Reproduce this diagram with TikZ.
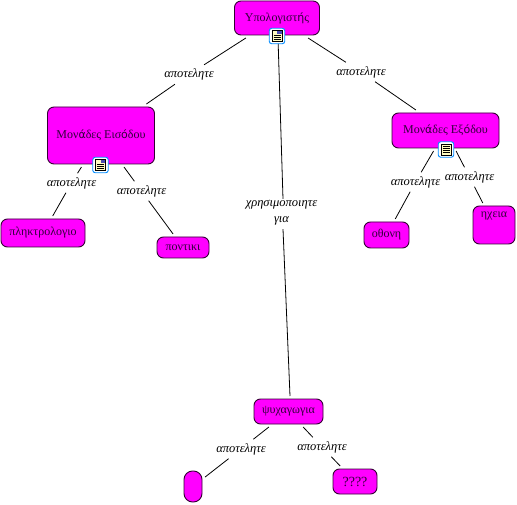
\documentclass[tikz,border=0pt]{standalone}
\usepackage{fontspec}
\setmainfont{Liberation Serif}
\newfontfamily\fbk{DejaVu Sans}
\newcommand{\fb}[1]{{\fbk\fontsize{11}{13}\selectfont #1}}
\definecolor{conceptfill}{RGB}{255,0,255}
\definecolor{conceptink}{RGB}{50,0,60}
\tikzset{
  concept/.style={draw=black!80!conceptfill,line width=0.9pt,fill=conceptfill,rounded corners=6.5pt,
    minimum width=#1,inner sep=0pt,outer sep=3pt,align=center,text=conceptink,font=\fontsize{12}{14}\selectfont},
  link/.style={inner sep=1pt,outer sep=3pt,align=center,font=\itshape\fontsize{12.5}{16}\selectfont,text=black},
  conn/.style={draw=black,line width=0.8pt},
}
\newcommand{\docicon}[2]{%
  \node[draw=blue!45!cyan,line width=0.9pt,fill=white,rounded corners=2.5pt,minimum size=15.5pt,inner sep=0pt] (#1) at #2 {};
  \fill[yellow!25,draw=black,line width=0.6pt] ([shift={(-5pt,5.5pt)}]#1.center) rectangle ([shift={(5pt,-5.5pt)}]#1.center);
}
\begin{document}
\begin{tikzpicture}[x=1pt,y=-1pt]
\useasboundingbox (0,0) rectangle (517,505);
% concepts
\node[concept=85pt,minimum height=34pt] (comp) at (277,18) {Υπολογιστ\fb{ή}ς};
\node[concept=107pt,minimum height=57pt] (in) at (101,135.5) {Μον\fb{ά}δες Εισ\fb{ό}δου};
\node[concept=84pt,minimum height=28pt] (kbd) at (43,233) {πληκτρολογιο};
\node[concept=52pt,minimum height=21pt] (mouse) at (183,247.5) {ποντικι};
\node[concept=107pt,minimum height=35pt] (out) at (445.5,130.5) {Μον\fb{ά}δες Εξ\fb{ό}δου};
\node[concept=45pt,minimum height=26pt] (screen) at (386.5,235) {οθονη};
\node[concept=42pt,minimum height=38pt] (spk) at (494,225) {};
\node[text=conceptink,font=\fontsize{12}{14}\selectfont,inner sep=0pt] (spktext) at (494,215.5) {ηχεια};
\node[concept=69pt,minimum height=25pt] (fun) at (288.5,411.5) {ψυχαγωγια};
\node[concept=18pt,minimum height=31pt,rounded corners=8.5pt] (blank) at (193,486.5) {};
\node[concept=44pt,minimum height=25pt] (quest) at (355,481.5) {\fontsize{14}{16}\selectfont ????};
% link labels
\node[link] (l1) at (189,74.5) {αποτελητε};
\node[link] (l2) at (361,72) {αποτελητε};
\node[link] (l3) at (71.5,183) {αποτελητε};
\node[link] (l4) at (141.5,191) {αποτελητε};
\node[link] (l5) at (415.5,182) {αποτελητε};
\node[link] (l6) at (469.5,177) {αποτελητε};
\node[link] (l7) at (281.5,212.5) {χρησιμοποιητε\\για};
\node[link] (l8) at (241,449) {αποτελητε};
\node[link] (l9) at (322,447) {αποτελητε};
% connectors
\draw[conn] (comp) -- (l1);
\draw[conn] (l1) -- (in);
\draw[conn] (comp) -- (l2);
\draw[conn] (l2) -- (out);
\draw[conn] ([xshift=1pt]comp.south) -- ([xshift=1.5pt,yshift=-3pt]l7.north);
\draw[conn] ([xshift=1.5pt]l7.south) -- ([xshift=1.5pt]fun.north);
\draw[conn] (in) -- (l3);
\draw[conn] (l3) -- (kbd);
\draw[conn] (in) -- (l4);
\draw[conn] (l4) -- (mouse);
\draw[conn] (out) -- (l5);
\draw[conn] (l5) -- (screen);
\draw[conn] (out) -- (l6);
\draw[conn] (l6) -- (spk);
\draw[conn] (fun) -- (l8);
\draw[conn] (l8) -- (blank);
\draw[conn] (fun) -- (l9);
\draw[conn] (l9) -- (quest);
% icons
\docicon{ic1}{(277,36)}
\foreach \yy in {1,-1,-3} \draw[line width=.5pt] ([shift={(-3.5pt,\yy pt)}]ic1.center) -- ([shift={(3.5pt,\yy pt)}]ic1.center);
\fill[blue!40!gray] ([shift={(0pt,4.5pt)}]ic1.center) rectangle ([shift={(4.5pt,1.5pt)}]ic1.center);
\docicon{ic2}{(100.5,165)}
\foreach \yy in {1,-1,-3} \draw[line width=.5pt] ([shift={(-3.5pt,\yy pt)}]ic2.center) -- ([shift={(3.5pt,\yy pt)}]ic2.center);
\fill[blue!40!gray] ([shift={(0pt,4.5pt)}]ic2.center) rectangle ([shift={(4.5pt,1.5pt)}]ic2.center);
\docicon{ic3}{(446,149.5)}
\foreach \yy in {3,1,-1,-3} \draw[line width=.5pt] ([shift={(-3.5pt,\yy pt)}]ic3.center) -- ([shift={(3.5pt,\yy pt)}]ic3.center);
\end{tikzpicture}
\end{document}
